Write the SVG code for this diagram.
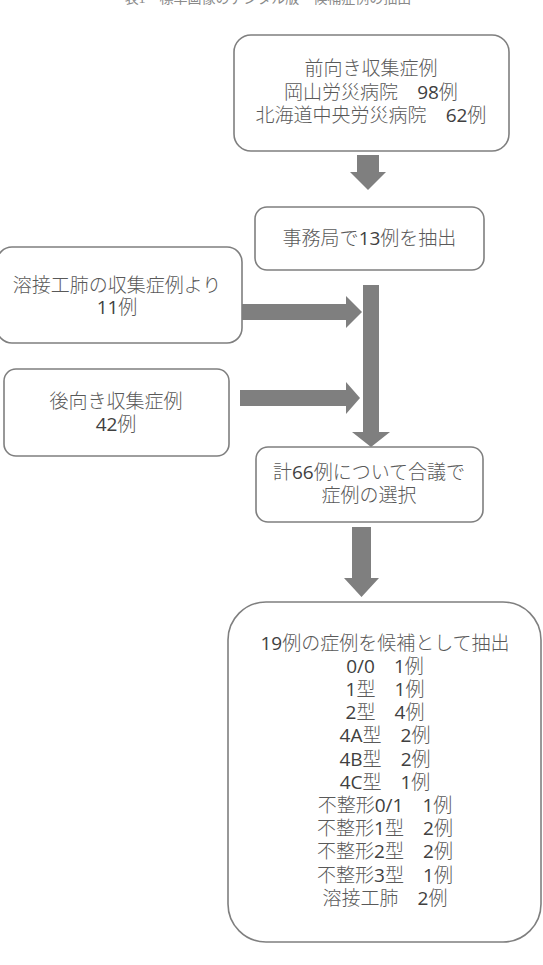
<svg xmlns="http://www.w3.org/2000/svg" width="543" height="965" viewBox="0 0 543 965">
<style>
.box{fill:#ffffff;stroke:#7f7f7f;stroke-width:1.6}
.t{font-family:"Noto Sans CJK JP","Noto Sans",sans-serif;font-weight:300;font-size:19px;fill:#595959;text-anchor:middle}
.n{font-family:"Open Sans","Liberation Sans",sans-serif;font-weight:400;fill:#404040}
.arr{fill:#7f7f7f}
.title{font-family:"Liberation Serif","Noto Sans CJK JP",serif;font-size:14px;fill:#8a8a8a;text-anchor:middle}
</style>
<rect width="543" height="965" fill="#ffffff"/>
<text class="title" x="268" y="3">表1　標準画像のデジタル版　候補症例の抽出</text>
<g id="connectors">
<polygon class="arr" points="357,155 379,155 379,172 386,172 368,190 350,172 357,172"/>
<polygon class="arr" points="363,285 379,285 379,432 390,432 371,447 352,432 363,432"/>
<polygon class="arr" points="242,304 346,304 346,296 362,312 346,328 346,320 242,320"/>
<polygon class="arr" points="240,390 346,390 346,382 360,398 346,414 346,406 240,406"/>
<polygon class="arr" points="352,527 371,527 371,578 379,578 361.5,597 344,578 352,578"/>
</g>
<g id="n1">
<rect class="box" x="234" y="35" width="275" height="116" rx="17"/>
<text class="t" x="371" y="75">前向き収集症例</text>
<text class="t" x="371" y="98.5">岡山労災病院　<tspan class="n">98</tspan>例</text>
<text class="t" x="371" y="122">北海道中央労災病院　<tspan class="n">62</tspan>例</text>
</g>
<g id="n2">
<rect class="box" x="255" y="207" width="229" height="63" rx="12"/>
<text class="t" x="369.5" y="244.5">事務局で<tspan class="n">13</tspan>例を抽出</text>
</g>
<g id="n3">
<rect class="box" x="-3" y="247" width="245" height="96" rx="15"/>
<text class="t" x="117" y="291.5">溶接工肺の収集症例より</text>
<text class="t" x="117" y="314"><tspan class="n">11</tspan>例</text>
</g>
<g id="n4">
<rect class="box" x="4" y="369" width="225" height="87" rx="12"/>
<text class="t" x="116" y="407.5">後向き収集症例</text>
<text class="t" x="116" y="430.5"><tspan class="n">42</tspan>例</text>
</g>
<g id="n5">
<rect class="box" x="256" y="447" width="227" height="75" rx="12"/>
<text class="t" x="369" y="478.5">計<tspan class="n">66</tspan>例について合議で</text>
<text class="t" x="369" y="501.5">症例の選択</text>
</g>
<g id="n6">
<rect class="box" x="228" y="602" width="313" height="340" rx="38"/>
<text class="t" x="385" y="649.5"><tspan class="n">19</tspan>例の症例を候補として抽出</text>
<text class="t" x="385" y="672.7"><tspan class="n">0/0</tspan>　<tspan class="n">1</tspan>例</text>
<text class="t" x="385" y="695.9"><tspan class="n">1</tspan>型　<tspan class="n">1</tspan>例</text>
<text class="t" x="385" y="719.1"><tspan class="n">2</tspan>型　<tspan class="n">4</tspan>例</text>
<text class="t" x="385" y="742.3"><tspan class="n">4A</tspan>型　<tspan class="n">2</tspan>例</text>
<text class="t" x="385" y="765.5"><tspan class="n">4B</tspan>型　<tspan class="n">2</tspan>例</text>
<text class="t" x="385" y="788.7"><tspan class="n">4C</tspan>型　<tspan class="n">1</tspan>例</text>
<text class="t" x="385" y="811.9">不整形<tspan class="n">0/1</tspan>　<tspan class="n">1</tspan>例</text>
<text class="t" x="385" y="835.1">不整形<tspan class="n">1</tspan>型　<tspan class="n">2</tspan>例</text>
<text class="t" x="385" y="858.3">不整形<tspan class="n">2</tspan>型　<tspan class="n">2</tspan>例</text>
<text class="t" x="385" y="881.5">不整形<tspan class="n">3</tspan>型　<tspan class="n">1</tspan>例</text>
<text class="t" x="385" y="904.7">溶接工肺　<tspan class="n">2</tspan>例</text>
</g>
</svg>
